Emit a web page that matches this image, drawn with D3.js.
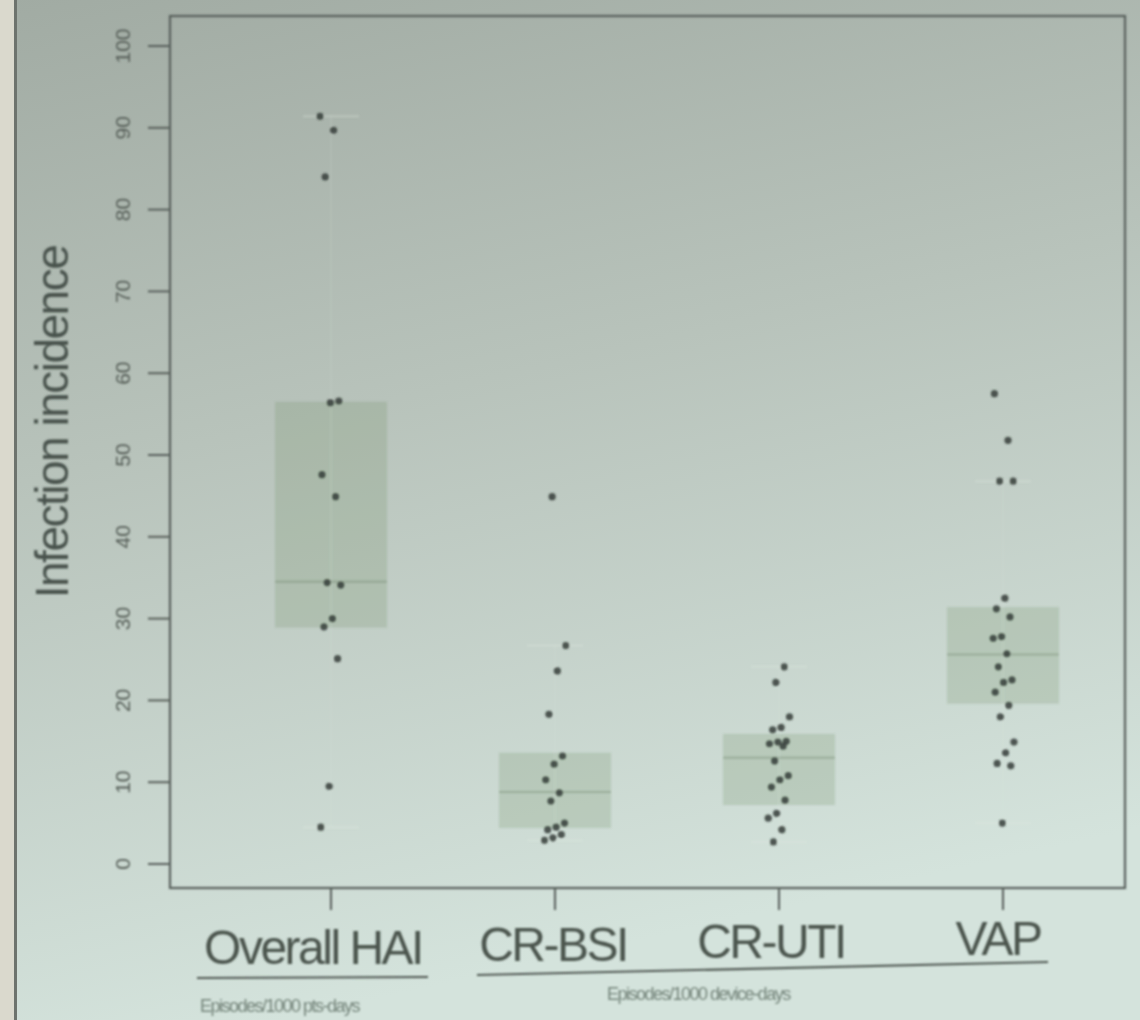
<!DOCTYPE html>
<html>
<head>
<meta charset="utf-8">
<script src="https://cdn.jsdelivr.net/npm/d3@7"></script>
<style>
  body { margin: 0; background: #c4cfc7; }
  svg { display: block; }
</style>
</head>
<body>
<div id="chart"></div>
<script>
// categories and values
var categories = ["Overall HAI", "CR-BSI", "CR-UTI", "VAP"];

var hai = [91.4, 89.7, 84.0, 56.6, 56.4, 47.6, 44.9, 34.4, 34.1, 30.0, 29.0, 25.1, 9.5, 4.5];
var crbsi = [44.9, 26.7, 23.6, 18.3, 13.2, 12.2, 10.3, 8.7, 7.7, 5.0, 4.5, 4.2, 3.6, 3.2, 2.9];
var cruti = [24.1, 22.2, 18.0, 16.7, 16.4, 15.0, 14.9, 14.7, 14.4, 12.6, 10.8, 10.3, 9.4, 7.8, 6.2, 5.6, 4.2, 2.7];
var vap = [57.5, 51.8, 46.8, 46.8, 32.5, 31.2, 30.2, 27.8, 27.6, 25.7, 24.1, 22.5, 22.2, 21.0, 19.4, 18.0, 14.9, 13.6, 12.3, 12.0, 5.0];

// box stats: lower quartile, median, upper quartile
var q1 = [28.9, 4.4, 7.2, 19.6];
var medians = [34.5, 8.8, 13.0, 25.6];
var q3 = [56.5, 13.6, 15.9, 31.4];

var yTicks = [0, 10, 20, 30, 40, 50, 60, 70, 80, 90, 100];
var yTitle = "Infection incidence";
var unitLabels = ["Episodes/1000 pts-days", "Episodes/1000 device-days"];

var seriesValues = [hai, crbsi, cruti, vap];

let width = 1140;
let height = 1020;
let frame = {left: 170, right: 1125, top: 16, bottom: 888};
let boxWidth = 112;

var svg = d3.select("#chart")
    .append("svg")
    .attr("width", width)
    .attr("height", height);

var defs = svg.append("defs");
var grad = defs.append("linearGradient")
    .attr("id", "bg")
    .attr("x1", "0").attr("y1", "0")
    .attr("x2", "0.25").attr("y2", "1");
grad.append("stop").attr("offset", "0%").attr("stop-color", "#a1aba3");
grad.append("stop").attr("offset", "45%").attr("stop-color", "#b8c3bb");
grad.append("stop").attr("offset", "100%").attr("stop-color", "#d4e3dc");

defs.append("filter").attr("id", "soft")
    .append("feGaussianBlur").attr("stdDeviation", 0.9);

// slide background (photo)
svg.append("rect")
    .attr("width", width).attr("height", height)
    .attr("fill", "url(#bg)");
svg.append("rect")
    .attr("width", 14).attr("height", height)
    .attr("fill", "#dad9cd");
svg.append("rect")
    .attr("x", 14).attr("width", 3).attr("height", height)
    .attr("fill", "#6d736d");

var g = svg.append("g").attr("filter", "url(#soft)");

var y = d3.scaleLinear().domain([0, 100]).range([864, 46]);
var x = d3.scalePoint().domain(categories).range([331, 1003]);

// boxes
categories.forEach(function (cat, i) {
    var cx = x(cat);
    g.append("rect")
        .attr("x", cx - boxWidth / 2)
        .attr("width", boxWidth)
        .attr("y", y(q3[i]))
        .attr("height", y(q1[i]) - y(q3[i]))
        .attr("fill", "#6f8c66")
        .attr("fill-opacity", 0.22);
    g.append("line")
        .attr("x1", cx - boxWidth / 2).attr("x2", cx + boxWidth / 2)
        .attr("y1", y(medians[i])).attr("y2", y(medians[i]))
        .attr("stroke", "#6f8468")
        .attr("stroke-opacity", 0.4)
        .attr("stroke-width", 2);

    // whisker ends: most extreme points inside 1.5 IQR
    var iqr = q3[i] - q1[i];
    var vals = seriesValues[i];
    var hi = d3.max(vals.filter(v => v <= q3[i] + 1.5 * iqr));
    var lo = d3.min(vals.filter(v => v >= q1[i] - 1.5 * iqr));
    g.append("line")
        .attr("x1", cx).attr("x2", cx)
        .attr("y1", y(hi)).attr("y2", y(lo))
        .attr("stroke", "#d8e2da")
        .attr("stroke-opacity", 0.15)
        .attr("stroke-width", 1.5);
    [hi, lo].forEach(function (v) {
        g.append("line")
            .attr("x1", cx - 28).attr("x2", cx + 28)
            .attr("y1", y(v)).attr("y2", y(v))
            .attr("stroke", "#e2eae2")
            .attr("stroke-opacity", 0.3)
            .attr("stroke-width", 2);
    });
});

// points, with a small deterministic jitter
categories.forEach(function (cat, i) {
    g.selectAll(null)
        .data(seriesValues[i])
        .enter().append("circle")
        .attr("cx", function (d, j) {
            var f = ((j * 0.6180339 + i * 0.37) % 1) - 0.5;
            return x(cat) + f * 22;
        })
        .attr("cy", d => y(d))
        .attr("r", 3.6)
        .attr("fill", "#353d38")
        .attr("fill-opacity", 0.85);
});

// frame
g.append("rect")
    .attr("x", frame.left).attr("y", frame.top)
    .attr("width", frame.right - frame.left)
    .attr("height", frame.bottom - frame.top)
    .attr("fill", "none")
    .attr("stroke", "#59605b")
    .attr("stroke-width", 2.2);

// y axis
var yAxis = g.append("g");
yAxis.selectAll("line")
    .data(yTicks)
    .enter().append("line")
    .attr("x1", frame.left - 22).attr("x2", frame.left)
    .attr("y1", d => y(d)).attr("y2", d => y(d))
    .attr("stroke", "#59605b")
    .attr("stroke-width", 2);
yAxis.selectAll("text")
    .data(yTicks)
    .enter().append("text")
    .attr("transform", d => "translate(130," + y(d) + ") rotate(-90)")
    .attr("text-anchor", "middle")
    .style("font-family", "Liberation Sans, Arial, sans-serif")
    .style("font-size", "21px")
    .style("fill", "#58605a")
    .text(d => d);

g.append("text")
    .attr("transform", "translate(68,422) rotate(-90)")
    .attr("text-anchor", "middle")
    .style("font-family", "Liberation Sans, Arial, sans-serif")
    .style("font-size", "46px")
    .style("letter-spacing", "-1.5px")
    .style("fill", "#49534d")
    .text(yTitle);

// x axis
g.selectAll(".xtick")
    .data(categories)
    .enter().append("line")
    .attr("x1", d => x(d)).attr("x2", d => x(d))
    .attr("y1", frame.bottom).attr("y2", frame.bottom + 22)
    .attr("stroke", "#59605b")
    .attr("stroke-width", 2);

var labelX = [313, 553, 771, 998];
g.selectAll(".xlab")
    .data(categories)
    .enter().append("text")
    .attr("x", (d, i) => labelX[i])
    .attr("y", (d, i) => 964 - i * 3)
    .attr("text-anchor", "middle")
    .style("font-family", "Liberation Sans, Arial, sans-serif")
    .style("font-size", "48px")
    .style("letter-spacing", "-2.5px")
    .style("fill", "#4b544e")
    .text(d => d);

g.append("line")
    .attr("x1", 197).attr("x2", 428)
    .attr("y1", 978).attr("y2", 977)
    .attr("stroke", "#505852").attr("stroke-width", 2.2);
g.append("line")
    .attr("x1", 477).attr("x2", 1048)
    .attr("y1", 975).attr("y2", 962)
    .attr("stroke", "#505852").attr("stroke-width", 2.2);

g.append("text")
    .attr("x", 200).attr("y", 1012)
    .style("font-family", "Liberation Sans, Arial, sans-serif")
    .style("font-size", "18px")
    .style("letter-spacing", "-1.5px")
    .style("fill", "#74847a")
    .text(unitLabels[0]);
g.append("text")
    .attr("x", 607).attr("y", 1000)
    .style("font-family", "Liberation Sans, Arial, sans-serif")
    .style("font-size", "18px")
    .style("letter-spacing", "-1.5px")
    .style("fill", "#74847a")
    .text(unitLabels[1]);
</script>
</body>
</html>
